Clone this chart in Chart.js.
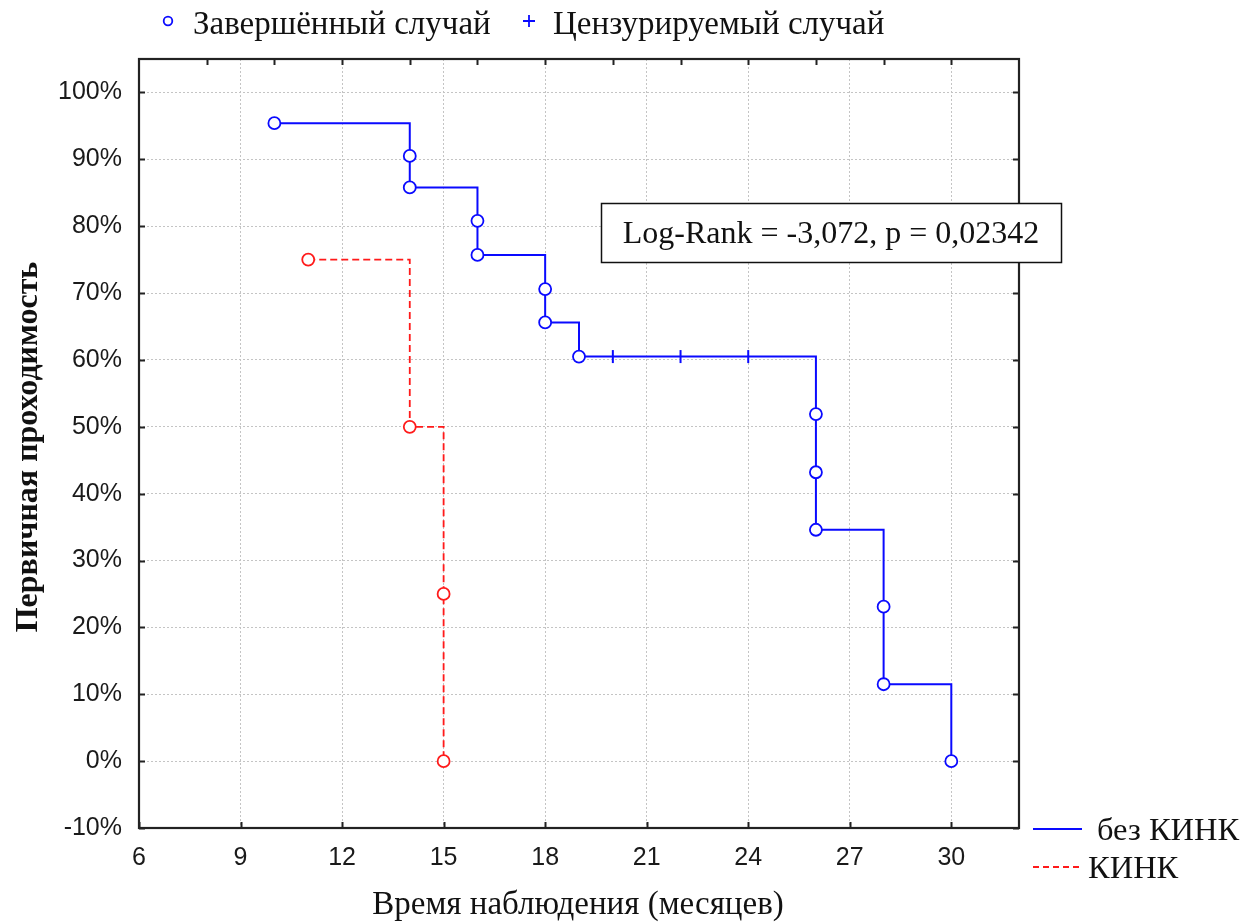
<!DOCTYPE html>
<html lang="ru">
<head>
<meta charset="utf-8">
<title>Кривые Каплана–Мейера: первичная проходимость</title>
<script src="https://cdn.jsdelivr.net/npm/chart.js@4.4.1/dist/chart.umd.min.js"></script>
<style>
  html, body { margin: 0; padding: 0; background: #fff; }
  #wrap { width: 1260px; height: 922px; position: relative; }
</style>
</head>
<body>
<div id="wrap"><canvas id="km"></canvas></div>
<script>
// Группа без КИНК: моменты событий (мес.) и доля пациентов с проходимостью (%)
const groupA = 'без КИНК';
const eventTimesA = [10, 14, 14, 16, 16, 18, 18, 19, 26, 26, 26, 28, 28, 30];
const survivalA   = [95.4, 90.5, 85.8, 80.8, 75.7, 70.6, 65.6, 60.5, 51.9, 43.2, 34.6, 23.1, 11.5, 0];
// Цензурированные наблюдения группы без КИНК
const censorTimesA = [20, 22, 24];
const censorSurvA  = [60.5, 60.5, 60.5];

// Группа КИНК
const groupB = 'КИНК';
const eventTimesB = [11, 14, 15, 15];
const survivalB   = [75, 50, 25, 0];

// Деления осей
const xTicks    = [6, 9, 12, 15, 18, 21, 24, 27, 30];
const xTopTicks = [8, 10, 12, 14, 16, 18, 20, 22, 24, 26, 28, 30];
const yTicks    = [-10, 0, 10, 20, 30, 40, 50, 60, 70, 80, 90, 100];

const xTitle = 'Время наблюдения (месяцев)';
const yTitle = 'Первичная проходимость';
const legendEvent = 'Завершённый случай';
const legendCensor = 'Цензурируемый случай';
const statText = 'Log-Rank = -3,072, p = 0,02342';

const BLUE = '#0a0aff';
const RED = '#ff1a1a';
const SERIF = '"Liberation Serif", "Times New Roman", serif';
const SANS = '"Liberation Sans", Arial, sans-serif';

const toPoints = (xs, ys) => xs.map((x, i) => ({ x, y: ys[i] }));

// Рамка, внутренние засечки, легенды и подписи осей
const decorations = {
  id: 'decorations',
  afterDraw(chart) {
    const { ctx, chartArea: a, scales: { x, y } } = chart;
    ctx.save();

    // внутренние засечки
    ctx.strokeStyle = '#222';
    ctx.lineWidth = 2;
    const tl = 6;
    ctx.beginPath();
    xTicks.forEach(v => {
      const px = Math.round(x.getPixelForValue(v)) + 0.5;
      ctx.moveTo(px, a.bottom); ctx.lineTo(px, a.bottom - tl);
    });
    xTopTicks.forEach(v => {
      const px = Math.round(x.getPixelForValue(v)) + 0.5;
      ctx.moveTo(px, a.top); ctx.lineTo(px, a.top + tl);
    });
    yTicks.forEach(v => {
      const py = Math.round(y.getPixelForValue(v)) + 0.5;
      ctx.moveTo(a.left, py); ctx.lineTo(a.left + tl, py);
      ctx.moveTo(a.right, py); ctx.lineTo(a.right - tl, py);
    });
    ctx.stroke();

    // рамка
    ctx.lineWidth = 2.2;
    ctx.strokeStyle = '#222';
    ctx.strokeRect(a.left, a.top, a.right - a.left, a.bottom - a.top);

    // верхняя легенда маркеров
    ctx.fillStyle = '#111';
    ctx.textBaseline = 'alphabetic';
    ctx.textAlign = 'left';
    ctx.font = '33px ' + SERIF;
    ctx.strokeStyle = BLUE;
    ctx.lineWidth = 1.8;
    ctx.beginPath();
    ctx.arc(168, 21, 4.3, 0, Math.PI * 2);
    ctx.stroke();
    ctx.fillText(legendEvent, 193, 34);
    ctx.beginPath();
    ctx.moveTo(523, 21); ctx.lineTo(535, 21);
    ctx.moveTo(529, 15); ctx.lineTo(529, 27);
    ctx.stroke();
    ctx.fillText(legendCensor, 553, 34);

    // подпись оси X
    ctx.textAlign = 'center';
    ctx.font = '33px ' + SERIF;
    ctx.fillText(xTitle, 578, 914);

    // подпись оси Y
    ctx.save();
    ctx.translate(37, 447);
    ctx.rotate(-Math.PI / 2);
    ctx.font = 'bold 32px ' + SERIF;
    ctx.fillText(yTitle, 0, 0);
    ctx.restore();

    // блок со статистикой
    ctx.fillStyle = '#fff';
    ctx.fillRect(601, 203, 461, 60);
    ctx.strokeStyle = '#111';
    ctx.lineWidth = 1.5;
    ctx.strokeRect(601.5, 203.5, 460, 59);
    ctx.fillStyle = '#111';
    ctx.font = '32px ' + SERIF;
    ctx.fillText(statText, 831, 243);

    // легенда групп
    ctx.textAlign = 'left';
    ctx.font = '32.5px ' + SERIF;
    ctx.strokeStyle = BLUE;
    ctx.lineWidth = 2;
    ctx.beginPath();
    ctx.moveTo(1033, 829); ctx.lineTo(1082, 829);
    ctx.stroke();
    ctx.fillText(groupA, 1097, 840);
    ctx.strokeStyle = RED;
    ctx.setLineDash([6, 4]);
    ctx.beginPath();
    ctx.moveTo(1033, 867); ctx.lineTo(1082, 867);
    ctx.stroke();
    ctx.setLineDash([]);
    ctx.fillText(groupB, 1088, 878);

    ctx.restore();
  }
};

new Chart(document.getElementById('km'), {
  type: 'scatter',
  data: {
    datasets: [
      {
        label: groupA,
        data: toPoints(eventTimesA, survivalA),
        showLine: true,
        stepped: 'before',
        borderColor: BLUE,
        borderWidth: 2,
        pointStyle: 'circle',
        pointRadius: 6,
        pointBorderWidth: 1.8,
        pointBorderColor: BLUE,
        pointBackgroundColor: '#fff',
        clip: false
      },
      {
        label: groupA + ' (цензур.)',
        data: toPoints(censorTimesA, censorSurvA),
        showLine: false,
        pointStyle: 'line',
        rotation: 90,
        pointRadius: 6.5,
        pointBorderWidth: 2,
        pointBorderColor: BLUE,
        borderColor: BLUE,
        clip: false
      },
      {
        label: groupB,
        data: toPoints(eventTimesB, survivalB),
        showLine: true,
        stepped: 'before',
        borderColor: RED,
        borderWidth: 1.8,
        borderDash: [7, 4],
        pointStyle: 'circle',
        pointRadius: 6,
        pointBorderWidth: 1.8,
        pointBorderColor: RED,
        pointBackgroundColor: '#fff',
        clip: false
      }
    ]
  },
  options: {
    responsive: true,
    maintainAspectRatio: false,
    animation: false,
    layout: { padding: { left: 0, top: 59, right: 241, bottom: 0 } },
    plugins: {
      legend: { display: false },
      tooltip: { enabled: false }
    },
    scales: {
      x: {
        type: 'linear',
        min: 6,
        max: 32,
        afterBuildTicks: s => { s.ticks = xTicks.map(v => ({ value: v })); },
        afterFit: s => { s.height = 94; },
        grid: { color: '#c4c4c4', lineWidth: 1, drawTicks: false },
        border: { display: false, dash: [2, 2] },
        ticks: {
          padding: 15,
          color: '#1a1a1a',
          font: { family: SANS, size: 25 },
          maxRotation: 0
        }
      },
      y: {
        type: 'linear',
        min: -10,
        max: 105,
        afterBuildTicks: s => { s.ticks = yTicks.map(v => ({ value: v })); },
        afterFit: s => { s.width = 139; },
        grid: { color: '#c4c4c4', lineWidth: 1, drawTicks: false },
        border: { display: false, dash: [2, 2] },
        ticks: {
          padding: 17,
          color: '#1a1a1a',
          font: { family: SANS, size: 25 },
          callback: v => v + '%'
        }
      }
    }
  },
  plugins: [decorations]
});
</script>
</body>
</html>
